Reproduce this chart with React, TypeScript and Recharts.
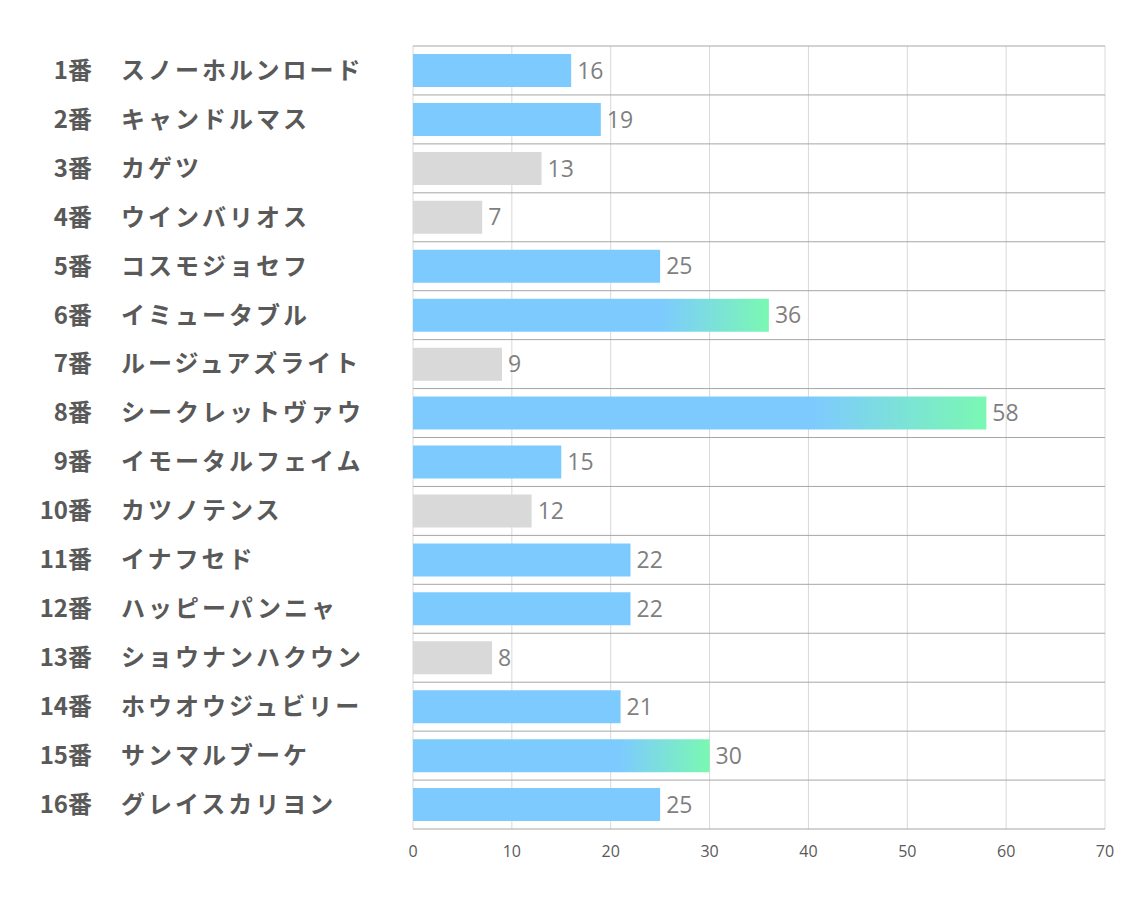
import React from 'react';
import {
  BarChart,
  Bar,
  XAxis,
  YAxis,
  CartesianGrid,
  Cell,
  LabelList,
} from 'recharts';

// 馬番・馬名・値
const horseNos = ['1番', '2番', '3番', '4番', '5番', '6番', '7番', '8番', '9番', '10番', '11番', '12番', '13番', '14番', '15番', '16番'];
const horseNames = [
  'スノーホルンロード',
  'キャンドルマス',
  'カゲツ',
  'ウインバリオス',
  'コスモジョセフ',
  'イミュータブル',
  'ルージュアズライト',
  'シークレットヴァウ',
  'イモータルフェイム',
  'カツノテンス',
  'イナフセド',
  'ハッピーパンニャ',
  'ショウナンハクウン',
  'ホウオウジュビリー',
  'サンマルブーケ',
  'グレイスカリヨン',
];
const scores = [16, 19, 13, 7, 25, 36, 9, 58, 15, 12, 22, 22, 8, 21, 30, 25];
// blue = 通常, gray = 低評価, grad = 注目
const kinds = ['blue', 'blue', 'gray', 'gray', 'blue', 'grad', 'gray', 'grad', 'blue', 'gray', 'blue', 'blue', 'gray', 'blue', 'grad', 'blue'];
const xTicks = [0, 10, 20, 30, 40, 50, 60, 70];

const data = horseNames.map((name, i) => ({
  key: `${horseNos[i]}|${name}`,
  no: horseNos[i],
  name,
  value: scores[i],
  kind: kinds[i],
}));

const fillFor = (kind: string) => {
  if (kind === 'gray') return '#d9d9d9';
  if (kind === 'grad') return 'url(#hotGradient)';
  return '#7dcbfe';
};

const JP_FONT = '"Noto Sans CJK JP", "Noto Sans", sans-serif';

const HorseTick = (props: any) => {
  const { y, payload } = props;
  const [no, name] = String(payload.value).split('|');
  return (
    <g>
      <text
        x={92}
        y={y}
        dy="0.35em"
        textAnchor="end"
        fill="#595959"
        fontSize={24}
        fontWeight="bold"
        fontFamily={JP_FONT}
      >
        {no}
      </text>
      <text
        x={121}
        y={y}
        dy="0.35em"
        textAnchor="start"
        fill="#595959"
        fontSize={24}
        fontWeight="bold"
        letterSpacing={3}
        fontFamily={JP_FONT}
      >
        {name}
      </text>
    </g>
  );
};

const ValueTick = (props: any) => {
  const { x, y, payload } = props;
  return (
    <text
      x={x}
      y={y}
      dy="1.1em"
      textAnchor="middle"
      fill="#595959"
      fontSize={16}
      fontFamily='"Open Sans", sans-serif'
    >
      {payload.value}
    </text>
  );
};

const rowLines = ({ offset }: any) => {
  const step = offset.height / data.length;
  return data.map((_, i) => offset.top + i * step).concat(offset.top + offset.height);
};

export default function App() {
  return (
    <div style={{ position: 'absolute', left: 0, top: 0, background: '#fff' }}>
      <BarChart
        width={1134}
        height={907}
        data={data}
        layout="vertical"
        margin={{ top: 46, right: 29, bottom: 0, left: 0 }}
      >
        <defs>
          <linearGradient id="hotGradient" x1="0" y1="0" x2="1" y2="0">
            <stop offset="0" stopColor="#7dcbfe" />
            <stop offset="0.7" stopColor="#7dcbfe" />
            <stop offset="1" stopColor="#7af8b2" />
          </linearGradient>
        </defs>
        <CartesianGrid horizontal={false} stroke="#d9d9d9" />
        <CartesianGrid
          vertical={false}
          stroke="#a6a6a6"
          horizontalCoordinatesGenerator={rowLines}
        />
        <XAxis
          type="number"
          domain={[0, 70]}
          ticks={xTicks}
          axisLine={false}
          tickLine={false}
          height={78}
          tickMargin={4}
          tick={<ValueTick />}
        />
        <YAxis
          type="category"
          dataKey="key"
          width={413}
          axisLine={false}
          tickLine={false}
          interval={0}
          tick={<HorseTick />}
        />
        <Bar dataKey="value" barSize={33} isAnimationActive={false}>
          {data.map((d) => (
            <Cell key={d.key} fill={fillFor(d.kind)} />
          ))}
          <LabelList
            dataKey="value"
            position="right"
            offset={6}
            fill="#7f7f7f"
            fontSize={23}
            fontFamily='"Open Sans", sans-serif'
          />
        </Bar>
      </BarChart>
    </div>
  );
}
